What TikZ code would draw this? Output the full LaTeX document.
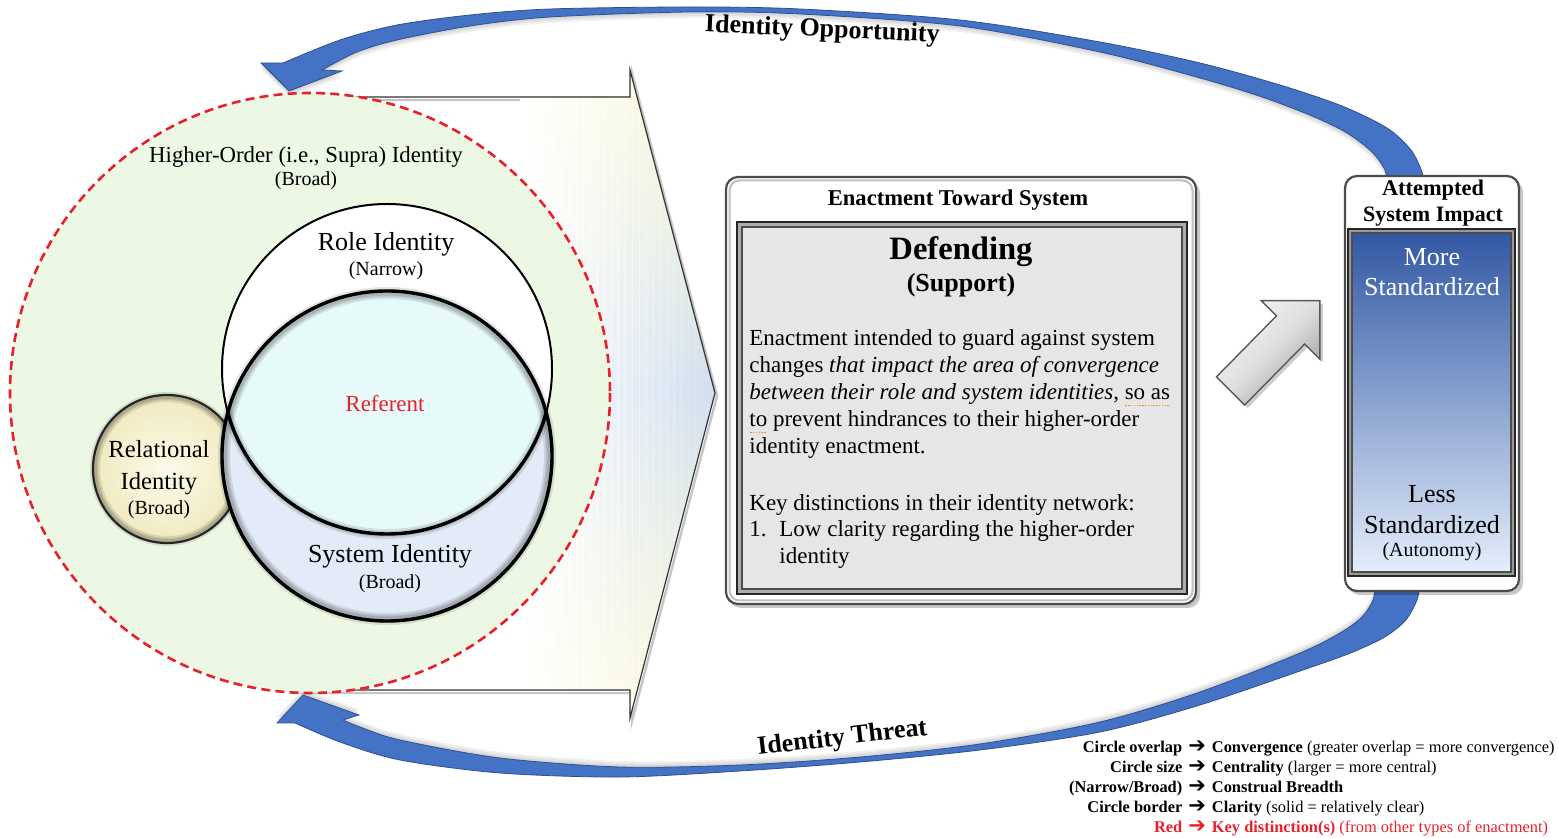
\documentclass[tikz,border=0pt]{standalone}
\usepackage{fontspec}
\setmainfont{Liberation Serif}
\newfontfamily\arrowfont{DejaVu Sans}
\usetikzlibrary{fadings}

\definecolor{arcblue}{RGB}{68,114,196}
\definecolor{arcedge}{RGB}{47,82,143}
\definecolor{suprafill}{RGB}{236,247,228}
\definecolor{dashred}{RGB}{232,32,42}
\definecolor{relinner}{RGB}{252,250,232}
\definecolor{relouter}{RGB}{240,234,192}
\definecolor{sysfill}{RGB}{227,235,248}
\definecolor{reffill}{RGB}{231,250,250}
\definecolor{cream}{RGB}{252,250,205}
\definecolor{paleblue}{RGB}{208,222,240}
\definecolor{boxgrey}{RGB}{230,230,230}
\definecolor{impacttop}{RGB}{50,88,164}
\definecolor{impactmid}{RGB}{140,172,228}
\definecolor{impactbot}{RGB}{228,238,251}
\definecolor{dotorange}{RGB}{225,150,40}

\newcommand\setfs[1]{\fontsize{#1}{#1}\selectfont}
% orange dotted proofing underline
\newcommand\proofmark[1]{\setbox0\hbox{#1}\rlap{\color{dotorange}\raisebox{-0.6ex}{\leaders\hbox{\kern.35pt\rule{.7pt}{.7pt}\kern.35pt}\hskip\wd0}}\box0\relax}
\newcommand\legarrow{{\arrowfont\bfseries\fontsize{10.5}{10}\selectfont ➔}}

% outline of the large block arrow behind the identity network
\newcommand\chevronpath{(300,97) -- (630,97) -- (630,70) -- (715,393) -- (630,718) -- (630,690) -- (300,690) -- cycle}

% upper feedback arrow (identity opportunity)
\newcommand\topbandpath{plot[smooth] coordinates {(1424,184) (1422,172) (1411,150) (1387,128) (1342,106) (1280,85) (1200,63) (1100,42) (960,20) (800,9) (690,7) (550,9) (470,15) (397,25) (340,40) (283,63)} -- (261,63) -- (289,91) -- (342,71) -- plot[smooth] coordinates {(322,70) (357,52) (397,40) (470,26) (550,17) (690,12) (800,14) (960,26) (1100,52) (1200,78) (1262,97) (1312,116) (1347,133) (1372,152) (1385,170) (1387,184)} -- cycle}

% lower feedback arrow (identity threat)
\newcommand\botbandpath{plot[smooth] coordinates {(1420,582) (1417,600) (1405,621) (1383,638) (1348,654) (1300,671) (1200,705) (1100,732) (980,750) (860,762) (740,771) (620,777) (500,773) (400,760) (340,742) (295,723)} -- (277,723) -- (303,695) -- (359,715) -- plot[smooth] coordinates {(343,720) (360,727) (400,740) (500,758) (620,767) (740,765) (860,757) (980,744) (1100,722) (1200,692) (1300,653) (1340,633) (1362,617) (1373,600) (1376,582)} -- cycle}

\begin{document}
\begin{tikzpicture}[x=0.5pt,y=-0.5pt,
  txt/.style={anchor=base, inner sep=0pt},
  txtl/.style={anchor=base west, inner sep=0pt},
  bandfill/.style={fill=arcblue, draw=arcedge, line width=.4pt},
  bandshadow/.style={fill=black, opacity=.06},
  boxshadow/.style={fill=black, opacity=.22, rounded corners=6pt},
  ringblur/.style={draw=black, line width=#1, opacity=.10},
]
\useasboundingbox (0,0) rectangle (1558,838);

% ---------- feedback arrows ----------
\foreach \d in {2,4,6} {\path[bandshadow, shift={(0,\d)}] \topbandpath;}
\foreach \d in {2,4,6} {\path[bandshadow, shift={(0,-\d)}] \botbandpath;}
\path[bandfill] \topbandpath;
\path[bandfill] \botbandpath;

\node[txt, font=\bfseries\setfs{13}, rotate=-2.5] (oppLbl) at (822,37) {Identity Opportunity};
\node[txt, font=\bfseries\setfs{13}, rotate=6.7] (thrLbl) at (843,745) {Identity Threat};

% ---------- block arrow behind the network ----------
\draw[black!45, line width=1.2pt, opacity=.5, shift={(2,3)}] \chevronpath;
\begin{scope}
  \clip \chevronpath;
  \fill[top color=cream, bottom color=cream, middle color=paleblue] (520,60) rectangle (716,720);
  % white wash fading towards the circle
  \foreach \i in {0,...,27} {
    \fill[white, opacity={1-\i/28}] ({520+7*\i},60) rectangle ({527.5+7*\i},720);
  }
\end{scope}
\draw[black!80, line width=.6pt] \chevronpath;

% ---------- higher-order identity ----------
\coordinate (supraC) at (310,393);
\fill[suprafill] (supraC) circle[radius=300];
\draw[dashred, line width=1.3pt, dash pattern=on 4.5pt off 2.6pt] (supraC) circle[radius=300];

% ---------- identity circles ----------
\coordinate (relC) at (167,469);
\coordinate (roleC) at (387,369);
\coordinate (sysC) at (387,456);

\shade[inner color=relinner, outer color=relouter] (relC) circle[radius=74];
\foreach \w in {5pt,3pt,1.8pt} {\draw[ringblur=\w] (relC) circle[radius=72];}
\draw[black!85, line width=1.1pt] (relC) circle[radius=74];

\fill[sysfill] (sysC) circle[radius=165];
\fill[white] (roleC) circle[radius=165];
\begin{scope}
  \clip (roleC) circle[radius=165];
  \fill[reffill] (sysC) circle[radius=165];
\end{scope}
\foreach \w in {6pt,4pt,2.5pt} {\draw[ringblur=\w] (sysC) circle[radius=163];}
\begin{scope}
  \clip (sysC) circle[radius=165];
  \foreach \w in {5pt,3pt} {\draw[ringblur=\w] (roleC) circle[radius=165];}
\end{scope}
\draw[black, line width=1pt] (roleC) circle[radius=165];
\begin{scope}
  \clip (sysC) circle[radius=165];
  \draw[black, line width=1.7pt] (roleC) circle[radius=165];
\end{scope}
\draw[black, line width=1.7pt] (sysC) circle[radius=165];

\node[txt, font=\setfs{11.4}] (supraT) at (306,163) {Higher-Order (i.e., Supra) Identity};
\node[txt, font=\setfs{10}] (supraS) at (306,186) {(Broad)};
\node[txt, font=\setfs{13}] (roleT) at (386,251) {Role Identity};
\node[txt, font=\setfs{10}] (roleS) at (386,276) {(Narrow)};
\node[txt, font=\setfs{11.5}, text=dashred] (refT) at (385,412) {Referent};
\node[txt, font=\setfs{12.3}] (relT1) at (159,458) {Relational};
\node[txt, font=\setfs{12.3}] (relT2) at (159,490) {Identity};
\node[txt, font=\setfs{10}] (relS) at (159,515) {(Broad)};
\node[txt, font=\setfs{13}] (sysT) at (390,563) {System Identity};
\node[txt, font=\setfs{10}] (sysS) at (390,589) {(Broad)};

% ---------- enactment box ----------
\fill[boxshadow] (729,181) rectangle (1200,608);
\draw[fill=white, draw=black!70, line width=1.1pt, rounded corners=6pt] (726,177) rectangle (1196,604);
\draw[black!25, line width=1pt, rounded corners=5pt] (729.5,180.5) rectangle (1192.5,600.5);
\draw[fill=black!32, draw=black!85, line width=.9pt] (737,222) rectangle (1187,594);
\draw[fill=boxgrey, draw=black!70, line width=.7pt] (742,227) rectangle (1182,589);

\node[txt, font=\bfseries\setfs{11.3}] (enactT) at (958,206) {Enactment Toward System};
\node[txt, font=\bfseries\setfs{16.3}] (defT) at (961,260) {Defending};
\node[txt, font=\bfseries\setfs{13}] (supT) at (961,292) {(Support)};
\begin{scope}[every node/.append style={font=\setfs{11.5}}]
\node[txtl] (p1) at (749,346) {Enactment intended to guard against system};
\node[txtl] (p2) at (749,373) {changes \textit{that impact the area of convergence}};
\node[txtl] (p3) at (749,400) {\textit{between their role and system identities}, \proofmark{so as}};
\node[txtl] (p4) at (749,427) {\proofmark{to} prevent hindrances to their higher-order};
\node[txtl] (p5) at (749,454) {identity enactment.};
\node[txtl] (p6) at (749,511) {Key distinctions in their identity network:};
\node[txtl] (p7) at (749,537) {1.};
\node[txtl] (p7b) at (779,537) {Low clarity regarding the higher-order};
\node[txtl] (p8) at (779,564) {identity};
\end{scope}

% ---------- grey block arrow ----------
\fill[black, opacity=.2, shift={(3,3)}] (1216.4,376.9) -- (1276.4,315.9) -- (1261.2,300.7) -- (1319.8,300.7) -- (1319.8,359.3) -- (1304.6,344.1) -- (1244.6,405.1) -- cycle;
\shadedraw[top color=black!4, bottom color=black!38, middle color=black!13, shading angle=45, draw=black!65, line width=.7pt]
  (1216.4,376.9) -- (1276.4,315.9) -- (1261.2,300.7) -- (1319.8,300.7) -- (1319.8,359.3) -- (1304.6,344.1) -- (1244.6,405.1) -- cycle;

% ---------- attempted system impact ----------
\fill[boxshadow] (1348,180) rectangle (1523,595);
\draw[fill=white, draw=black!70, line width=1.1pt, rounded corners=6pt] (1345,176) rectangle (1519,591);
\draw[fill=black!40, draw=black!85, line width=.9pt] (1348,229) rectangle (1515,576);
\shadedraw[top color=impacttop, middle color=impactmid, bottom color=impactbot, draw=black!70, line width=.6pt] (1352,233) rectangle (1511,572);

\node[txt, font=\bfseries\setfs{11.2}] (impT1) at (1433,196) {Attempted};
\node[txt, font=\bfseries\setfs{11}] (impT2) at (1433,222) {System Impact};
\node[txt, font=\setfs{13}, text=white] (more1) at (1432,266) {More};
\node[txt, font=\setfs{13}, text=white] (more2) at (1432,296) {Standardized};
\node[txt, font=\setfs{13}] (less1) at (1432,503) {Less};
\node[txt, font=\setfs{13}] (less2) at (1432,534) {Standardized};
\node[txt, font=\setfs{10}] (lessS) at (1432,557) {(Autonomy)};

% ---------- legend ----------
\node[anchor=north east, inner sep=0pt, font=\fontsize{8.2}{10}\selectfont] (legend) at (1555,738) {%
  \begin{tabular}{@{}r@{\hspace{3pt}}c@{\hspace{3pt}}l@{}}
  \textbf{Circle overlap} & \legarrow & \textbf{Convergence} (greater overlap = more convergence)\\
  \textbf{Circle size} & \legarrow & \textbf{Centrality} (larger = more central)\\
  \textbf{(Narrow/Broad)} & \legarrow & \textbf{Construal Breadth}\\
  \textbf{Circle border} & \legarrow & \textbf{Clarity} (solid = relatively clear)\\
  \color{dashred}\textbf{Red} & \color{dashred}\legarrow & \color{dashred}\textbf{Key distinction(s)} (from other types of enactment)
  \end{tabular}};
\end{tikzpicture}
\end{document}
